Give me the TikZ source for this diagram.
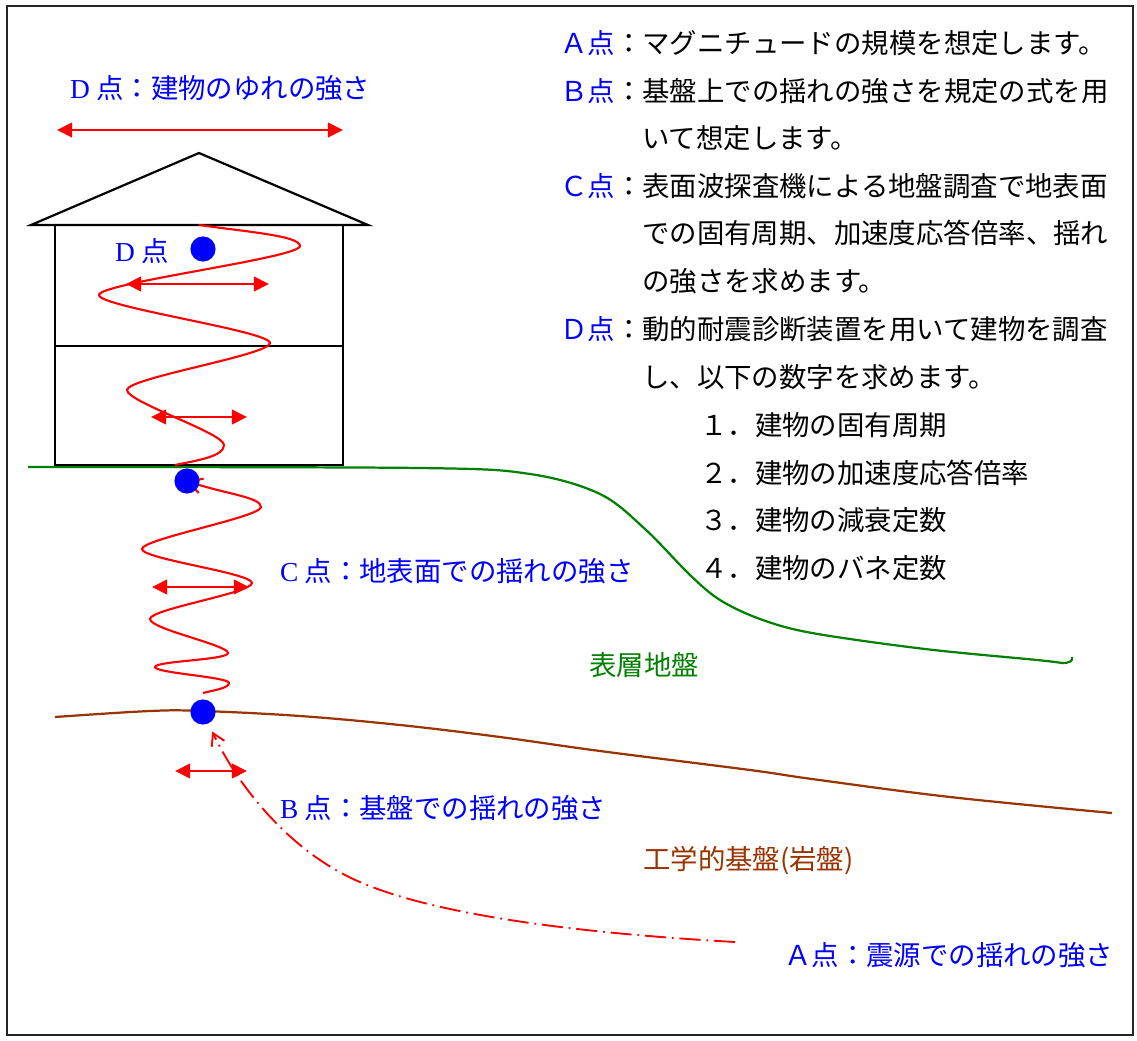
\documentclass[tikz,border=0pt]{standalone}
\usepackage{fontspec}
\setmainfont{Noto Sans CJK JP}
\newfontfamily\latinserif{Liberation Serif}
\usetikzlibrary{arrows.meta}
\definecolor{quakered}{RGB}{255,0,0}
\definecolor{markblue}{RGB}{0,0,255}
\definecolor{surfgreen}{RGB}{0,128,0}
\definecolor{rockbrown}{RGB}{153,51,0}
\newcommand\labelsize{\fontsize{23.4pt}{28pt}\selectfont}

\begin{document}
\begin{tikzpicture}[x=0.03cm,y=-0.03cm,
  txt/.style={font=\labelsize, inner sep=0pt, anchor=west, text height=20.6pt, text depth=2.8pt},
  pointdot/.style={circle, fill=markblue, inner sep=0pt, minimum size=21.5pt},
  sway/.style={draw=quakered, line width=2.1pt, >={Triangle[length=13pt,width=12.5pt]}, <->},
  quakewave/.style={draw=quakered, line width=1.8pt},
  housepen/.style={draw=black, line width=1.9pt, line join=miter},
  seisray/.style={draw=quakered, line width=1.6pt, dash pattern=on 18pt off 5pt on 1.5pt off 5pt},
]
\useasboundingbox (0,0) rectangle (1137,1041);
% frame
\draw[black!85, line width=1.8pt] (7,6) rectangle (1133,1035);

% ground surface and engineering bedrock
\draw[surfgreen, line width=1.9pt] plot[smooth, tension=0.55] coordinates {
  (28,467) (420,468) (530,474) (600,494) (645,529) (690,575) (720,600)
  (760,619) (812,633) (925,649) (1037,660) (1062,663)}
  .. controls (1070,663) and (1073,661) .. (1072,657);
\draw[rockbrown, line width=1.9pt] plot[smooth, tension=0.6] coordinates {
  (55,717) (150,711) (203,711) (300,716) (400,725) (500,737) (600,751)
  (750,770) (812,779) (950,797) (1112,813)};

% house
\draw[housepen] (31,225) -- (199,153) -- (368,225) -- cycle;
\draw[housepen] (55,225) rectangle (343,465);
\draw[housepen] (55,346) -- (343,346);

% observation points
\coordinate (Dc) at (203,249);
\coordinate (Cc) at (187,481);
\coordinate (Bc) at (203,712);
\coordinate (Aq) at (735,942);
\coordinate (hw) at (199,225);

% building response wave
\draw[quakewave] (hw) .. controls (249,232) and (300,236) .. (300,246)
  .. controls (300,258) and (99,283) .. (99,295)
  .. controls (99,307) and (270,331) .. (270,343)
  .. controls (270,355) and (127,378) .. (127,390)
  .. controls (127,402) and (224,433) .. (224,445)
  .. controls (224,456) and (200,460) .. (175,465);

% surface layer wave
\draw[quakewave, {Straight Barb[length=11pt,width=13pt]}-] (Cc)
  .. controls (225,494) and (261,497) .. (261,507)
  .. controls (261,517) and (142,539) .. (142,549)
  .. controls (142,559) and (252,573) .. (252,583)
  .. controls (252,593) and (150,609) .. (150,619)
  .. controls (150,629) and (228,645) .. (228,653)
  .. controls (228,660) and (155,661) .. (155,667)
  .. controls (155,673) and (229,677) .. (229,683)
  .. controls (229,688) and (215,690) .. (203,693);

% dots
\node[pointdot] (D) at (Dc) {};
\node[pointdot] (C) at (Cc) {};
\node[pointdot] (B) at (Bc) {};

% ray from the source to the bedrock
\draw[seisray, -{Straight Barb[length=10pt,width=12pt]}, shorten >=7.5pt] (Aq)
  .. controls (560,932) and (420,912) .. (349,877)
  .. controls (290,848) and (240,790) .. (B);

% amplitude arrows
\coordinate (s1a) at (57,130);  \coordinate (s1b) at (343,130);
\coordinate (s2a) at (126,284); \coordinate (s2b) at (269,284);
\coordinate (s3a) at (151,417); \coordinate (s3b) at (247,417);
\coordinate (s4a) at (152,587); \coordinate (s4b) at (249,587);
\coordinate (s5a) at (175,771); \coordinate (s5b) at (247,771);
\draw[sway] (s1a) -- (s1b);
\draw[sway] (s2a) -- (s2b);
\draw[sway] (s3a) -- (s3b);
\draw[sway] (s4a) -- (s4b);
\draw[sway] (s5a) -- (s5b);

% labels on the figure
\node[txt, text=markblue] (lD) at (70,88) {{\latinserif D} 点：建物のゆれの強さ};
\node[txt, text=markblue] (lDh) at (115,251) {{\latinserif D} 点};
\node[txt, text=markblue] (lC) at (280,571) {{\latinserif C} 点：地表面での揺れの強さ};
\node[txt, text=markblue] (lB) at (280,808) {{\latinserif B} 点：基盤での揺れの強さ};
\node[txt, text=markblue] (lA) at (784,955) {Ａ点：震源での揺れの強さ};
\node[txt, text=surfgreen] (lsurf) at (589,665) {表層地盤};
\node[txt, text=rockbrown] (lrock) at (643,859) {工学的基盤(岩盤)};

% explanation
\node[txt] (e1) at (560,43.5) {\textcolor{markblue}{Ａ点}：マグニチュードの規模を想定します。};
\node[txt] (e2) at (560,91) {\textcolor{markblue}{Ｂ点}：基盤上での揺れの強さを規定の式を用};
\node[txt] (e3) at (642,138.5) {いて想定します。};
\node[txt] (e4) at (560,186) {\textcolor{markblue}{Ｃ点}：表面波探査機による地盤調査で地表面};
\node[txt] (e5) at (642,233.5) {での固有周期、加速度応答倍率、揺れ};
\node[txt] (e6) at (642,281) {の強さを求めます。};
\node[txt] (e7) at (560,329) {\textcolor{markblue}{Ｄ点}：動的耐震診断装置を用いて建物を調査};
\node[txt] (e8) at (642,377) {し、以下の数字を求めます。};
\node[txt] (e9) at (700,425) {１．建物の固有周期};
\node[txt] (e10) at (700,473) {２．建物の加速度応答倍率};
\node[txt] (e11) at (700,520.5) {３．建物の減衰定数};
\node[txt] (e12) at (700,568) {４．建物のバネ定数};
\end{tikzpicture}
\end{document}
